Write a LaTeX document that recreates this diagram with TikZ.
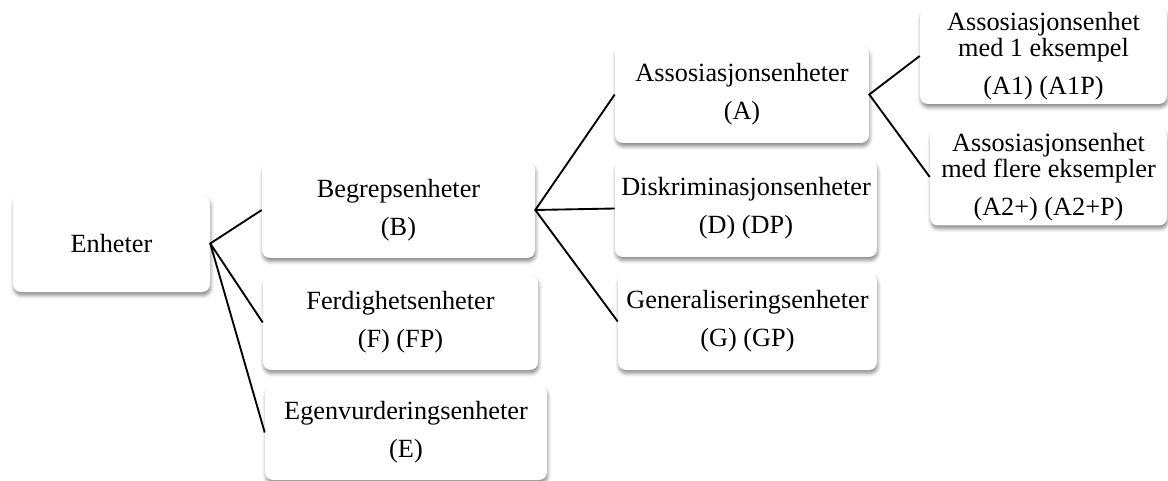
\documentclass[tikz,border=0pt]{standalone}
\usepackage{fontspec}
\setmainfont{Liberation Serif}
\usetikzlibrary{shadows.blur}
\begin{document}
\begin{tikzpicture}[x=0.75pt,y=-0.75pt,
  box/.style={fill=white, draw=none, rounded corners=6pt, inner sep=0pt, align=center,
    font={\fontsize{19.7pt}{19.7pt}\selectfont},
    blur shadow={shadow xshift=0.6pt, shadow yshift=-2.6pt, shadow blur radius=2.6pt, shadow opacity=45}},
  conn/.style={draw=black, line width=1.4pt}]
\useasboundingbox (0,0) rectangle (1168,481);
\node[box, minimum width=147.75pt, minimum height=72.75pt] (en) at (111.5,243.5) {Enheter};
\node[box, minimum width=204.75pt, minimum height=72pt] (b) at (398.5,210) {Begrepsenheter\\[9pt](B)};
\node[box, minimum width=206.25pt, minimum height=71.25pt] (f) at (400.5,322.5) {Ferdighetsenheter\\[9pt](F) (FP)};
\node[box, minimum width=211.5pt, minimum height=71.25pt] (e) at (406,432.5) {Egenvurderingsenheter\\[9pt](E)};
\node[box, minimum width=190.5pt, minimum height=72.75pt] (a) at (742,94.5) {Assosiasjonsenheter\\[9pt](A)};
\node[box, minimum width=196.5pt, minimum height=72.75pt] (d) at (746,208.5) {Diskriminasjonsenheter\\[9pt](D) (DP)};
\node[box, minimum width=194.25pt, minimum height=72.75pt] (g) at (747.5,321.5) {Generaliseringsenheter\\[9pt](G) (GP)};
\node[box, minimum width=185.25pt, minimum height=72pt] (a1) at (1043.5,56) {Assosiasjonsenhet\\med 1 eksempel\\[9pt](A1) (A1P)};
\node[box, minimum width=177.75pt, minimum height=72.75pt] (a2) at (1048.5,177) {Assosiasjonsenhet\\med flere eksempler\\[9pt](A2+) (A2+P)};
\draw[conn] (b.west) -- (en.east) -- (f.west);
\draw[conn] (en.east) -- (e.west);
\draw[conn] (a.west) -- (b.east) -- (g.west);
\draw[conn] (b.east) -- (d.west);
\draw[conn] (a1.west) -- (a.east) -- (a2.west);
\end{tikzpicture}
\end{document}
